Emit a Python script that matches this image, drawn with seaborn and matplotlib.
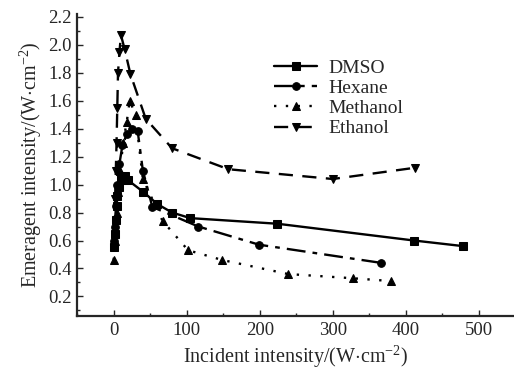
import matplotlib
matplotlib.use("Agg")
import matplotlib.pyplot as plt
from matplotlib.ticker import MultipleLocator
import seaborn as sns
import pandas as pd

# values
dmso_x = [1, 2, 3, 4, 5, 7, 10, 15, 20, 40, 60, 80, 105, 224, 411, 478]
dmso_y = [0.55, 0.65, 0.75, 0.85, 0.92, 0.98, 1.03, 1.06, 1.03, 0.95, 0.86, 0.80, 0.76, 0.72, 0.60, 0.56]

hexane_x = [1, 2, 3, 5, 8, 12, 18, 25, 33, 40, 53, 116, 199, 366]
hexane_y = [0.60, 0.70, 0.85, 1.00, 1.15, 1.28, 1.36, 1.40, 1.38, 1.10, 0.84, 0.70, 0.57, 0.44]

methanol_x = [0, 2, 4, 6, 9, 13, 18, 22, 30, 40, 67, 102, 149, 239, 327, 379]
methanol_y = [0.46, 0.60, 0.80, 0.95, 1.10, 1.30, 1.45, 1.60, 1.50, 1.04, 0.74, 0.53, 0.46, 0.36, 0.33, 0.31]

ethanol_x = [2, 3, 4, 5, 6, 8, 10, 15, 23, 44, 80, 157, 300, 412]
ethanol_y = [0.90, 1.10, 1.30, 1.55, 1.80, 1.95, 2.07, 1.97, 1.79, 1.47, 1.26, 1.11, 1.04, 1.12]

names = ["DMSO", "Hexane", "Methanol", "Ethanol"]
xs = [dmso_x, hexane_x, methanol_x, ethanol_x]
ys = [dmso_y, hexane_y, methanol_y, ethanol_y]
markers = ["s", "o", "^", "v"]
dashes = [(None, None), (8, 3, 2, 3), (1, 4), (6, 4)]

sns.set_style("ticks")
plt.rcParams["font.family"] = ["Liberation Serif", "DejaVu Serif"]
plt.rcParams["mathtext.fontset"] = "custom"
plt.rcParams["mathtext.rm"] = "Liberation Serif"

fig = plt.figure(figsize=(5.14, 3.70), dpi=100)
ax = fig.add_axes([0.150, 0.146, 0.850, 0.816])

for name, x, y, m, d in zip(names, xs, ys, markers, dashes):
    df = pd.DataFrame({"x": x, "y": y})
    sns.lineplot(data=df, x="x", y="y", ax=ax, sort=False, color="black",
                 marker=m, markersize=5.5, markeredgecolor="black",
                 linewidth=1.7, label=name)
    line = ax.lines[-1]
    if d[0] is None:
        line.set_linestyle("-")
    else:
        line.set_dashes(d)

ax.set_xlim(-50, 548)
ax.set_ylim(0.06, 2.22)
ax.xaxis.set_major_locator(MultipleLocator(100))
ax.xaxis.set_minor_locator(MultipleLocator(50))
ax.yaxis.set_major_locator(MultipleLocator(0.2))
ax.yaxis.set_minor_locator(MultipleLocator(0.1))
ax.set_xticks([0, 100, 200, 300, 400, 500])
ax.set_yticks([0.2, 0.4, 0.6, 0.8, 1.0, 1.2, 1.4, 1.6, 1.8, 2.0, 2.2])
ax.tick_params(which="major", direction="in", length=4, width=1, labelsize=13.5, pad=4)
ax.tick_params(which="minor", direction="in", length=2, width=1)
for s in ["left", "bottom"]:
    ax.spines[s].set_linewidth(1.6)
sns.despine(ax=ax)

ax.set_xlabel(r"Incident intensity/(W$\cdot$cm$^{\mathrm{-2}}$)", fontsize=14.5, labelpad=3)
ax.set_ylabel(r"Emeragent intensity/(W$\cdot$cm$^{\mathrm{-2}}$)", fontsize=14.5, labelpad=3)

ax.legend(loc="upper left", bbox_to_anchor=(0.42, 0.895), frameon=False,
          fontsize=14, handlelength=2.2, handletextpad=0.6, labelspacing=0.13, borderpad=0.2)

fig.savefig("out.png", dpi=100)
